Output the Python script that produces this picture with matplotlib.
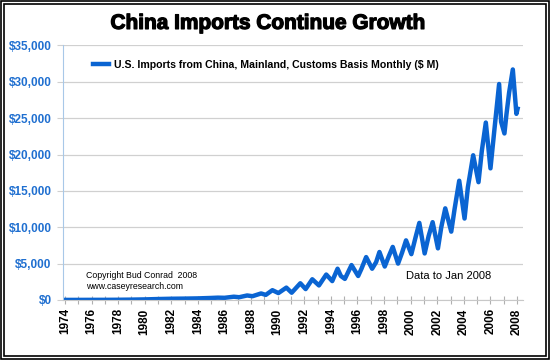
import matplotlib
matplotlib.use("Agg")
import matplotlib.pyplot as plt
from matplotlib.patches import Rectangle
import matplotlib.patheffects as pe

# decimal year, monthly imports ($ M)
years = [1974.0, 1975.0, 1976.0, 1977.0, 1978.0, 1979.0, 1980.0, 1981.0, 1982.0,
         1983.0, 1984.0, 1985.0, 1985.5, 1986.0, 1986.7, 1987.1, 1987.7, 1988.1,
         1988.75, 1989.1, 1989.6, 1990.05, 1990.65, 1991.05, 1991.7, 1992.1,
         1992.6, 1993.1, 1993.65, 1994.1, 1994.5, 1994.75, 1995.05, 1995.55,
         1996.05, 1996.3, 1996.65, 1997.1, 1997.4, 1997.65, 1998.05, 1998.35,
         1998.65, 1999.05, 1999.35, 1999.65, 2000.05, 2000.35, 2000.65, 2001.05,
         2001.35, 2001.65, 2002.05, 2002.3, 2002.6, 2003.05, 2003.3, 2003.65,
         2004.05, 2004.3, 2004.7, 2005.1, 2005.35, 2005.65, 2006.0, 2006.3,
         2006.65, 2006.8, 2007.05, 2007.2, 2007.4, 2007.68, 2007.95, 2008.04]
imports = [10, 12, 18, 20, 30, 50, 80, 130, 170,
           190, 220, 280, 320, 300, 450, 380, 620, 520,
           900, 700, 1350, 950, 1700, 1000, 2300, 1500,
           2850, 2000, 3500, 2600, 4300, 3300, 2900, 4800,
           3300, 4300, 5900, 4300, 5200, 6600, 4600, 6000,
           7300, 5000, 6500, 8200, 6300, 8500, 10600, 6400,
           8800, 10700, 7100, 10000, 12600, 9400, 12500, 16400,
           11200, 15500, 19900, 16200, 20500, 24400, 18100, 23500,
           29700, 24500, 22900, 25500, 28500, 31700, 25600, 26300]

yticks = [0, 5000, 10000, 15000, 20000, 25000, 30000, 35000]
ytick_labels = ["$0", "$5,000", "$10,000", "$15,000", "$20,000", "$25,000", "$30,000", "$35,000"]
xtick_years = list(range(1974, 2009, 2))

title = "China Imports Continue Growth"
series_name = "U.S. Imports from China, Mainland, Customs Basis Monthly ($ M)"

plt.rcParams['font.family'] = ['Liberation Sans', 'DejaVu Sans']

fig = plt.figure(figsize=(5.5, 3.6), dpi=100)
ax = fig.add_axes([0.114, 0.1667, 0.837, 0.707])

line_color = "#0A64D2"
ax.plot(years, imports, color=line_color, lw=3.2, solid_joinstyle='round',
        label=series_name)

ax.set_xlim(1973.83, 2008.45)
ax.set_ylim(0, 35000)
ax.set_yticks(yticks)
ax.set_yticklabels(ytick_labels, color="#1F6FD0", fontweight='bold', fontsize=8.5)
all_years = list(range(1974, 2009))
ax.set_xticks(all_years)
ax.set_xticklabels([str(y) if y in xtick_years else "" for y in all_years],
                   rotation=90, fontweight='bold', fontsize=8.5)

ax.grid(axis='y', color="#D0D0D0", lw=0.9)
ax.set_axisbelow(True)
for s in ['top', 'right']:
    ax.spines[s].set_visible(False)
ax.spines['left'].set_color("#A8C8E8")
ax.spines['bottom'].set_color("#C8C8C8")
ax.tick_params(axis='x', direction='inout', length=6, color="#B0B0B0", pad=3)
ax.tick_params(axis='y', length=4, color="#D0D0D0", pad=4)

leg = ax.legend(loc='upper left', bbox_to_anchor=(0.045, 0.98), frameon=False,
                prop={'weight': 'bold', 'size': 7.6}, handlelength=1.5,
                handletextpad=0.5)

ax.text(0.05, 0.115, "Copyright Bud Conrad  2008\nwww.caseyresearch.com",
        transform=ax.transAxes, fontsize=6.3, va='top', linespacing=1.35)
ax.text(0.745, 0.112, "Data to Jan 2008", transform=ax.transAxes,
        fontsize=8, va='top')

fig.text(0.488, 0.935, title, ha='center', va='center', fontsize=15,
         fontweight='heavy',
         path_effects=[pe.withStroke(linewidth=0.9, foreground='black')])

fig.patches.append(Rectangle((0.002, 0.003), 0.996, 0.994, transform=fig.transFigure,
                             fill=False, ec='black', lw=1.2))
fig.patches.append(Rectangle((0.008, 0.011), 0.984, 0.978, transform=fig.transFigure,
                             fill=False, ec='black', lw=1.2))

fig.savefig("out.png", dpi=100)
